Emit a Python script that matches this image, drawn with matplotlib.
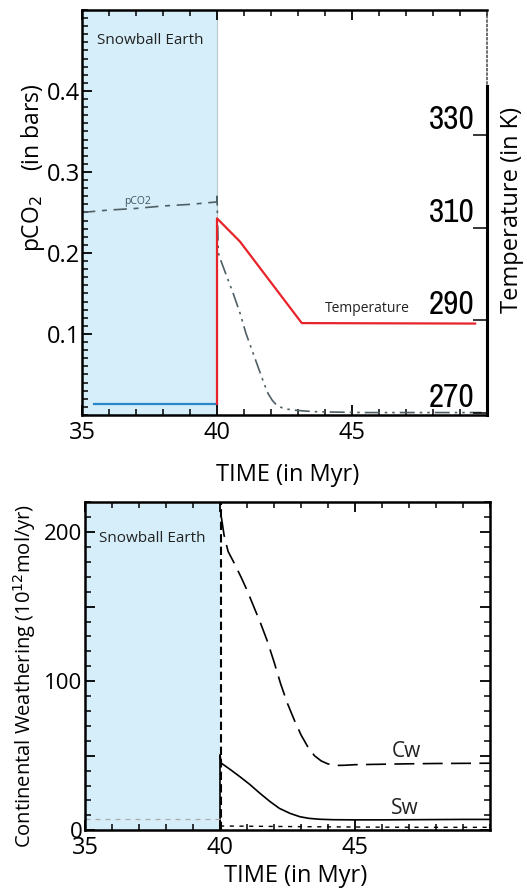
import matplotlib
matplotlib.use("Agg")
import matplotlib.pyplot as plt
from matplotlib.ticker import MultipleLocator, FuncFormatter
from matplotlib import font_manager
from matplotlib.font_manager import FontProperties

plt.rcParams['font.family'] = ['Open Sans', 'DejaVu Sans']

# ---------------- data ----------------
snowball_span = [35.0, 40.0]

# top panel: temperature (K)
t_snow_T = [35.45, 40.0]
T_snow = [272.0, 272.0]
t_T = [40.0, 40.0, 40.85, 43.14, 49.56]
T_vals = [272.0, 312.0, 307.0, 289.4, 289.3]

# top panel: pCO2 (bars)
t_pco2_snow = [35.0, 36.0, 37.0, 38.0, 39.0, 40.0]
pco2_snow = [0.250, 0.253, 0.255, 0.258, 0.260, 0.263]
t_pco2 = [40.0, 40.0, 40.05, 40.15, 40.35, 40.6, 40.85, 41.07, 41.35, 41.6,
          41.75, 41.9, 42.05, 42.2, 42.4, 42.6, 42.85, 43.2, 43.7, 44.5, 45.5, 47.0, 48.5, 49.8]
pco2_vals = [0.263, 0.270, 0.200, 0.190, 0.172, 0.150, 0.126, 0.101, 0.075, 0.052,
             0.038, 0.026, 0.018, 0.0125, 0.009, 0.0072, 0.006, 0.005, 0.004, 0.0035,
             0.003, 0.003, 0.003, 0.003]

# bottom panel: weathering (1e12 mol/yr)
t_cw = [40.05, 40.15, 40.30, 40.56, 40.80, 41.00, 41.25, 41.50, 41.75, 42.00,
        42.25, 42.50, 42.75, 43.00, 43.25, 43.50, 43.75, 44.00, 44.30, 44.60,
        45.00, 46.0, 47.0, 48.0, 49.0, 50.0]
cw_vals = [210, 198, 187, 178, 169, 161, 150, 139, 127, 113,
           98, 85, 74, 64, 56, 50, 46.5, 44.5, 43.5, 43.6,
           44.0, 44.3, 44.6, 44.8, 44.9, 45.0]
t_sw = [40.0, 40.0, 40.05, 40.4, 40.74, 41.1, 41.48, 41.85, 42.2, 42.6,
        42.96, 43.3, 43.7, 44.2, 45.0, 46.0, 47.0, 48.0, 49.0, 50.0]
sw_vals = [0.0, 50.6, 45.0, 40.5, 35.9, 30.8, 24.8, 19.3, 14.7, 11.3,
           9.1, 8.0, 7.4, 7.1, 7.0, 7.0, 7.1, 7.2, 7.3, 7.3]
t_snow_w = [35.0, 40.0]
snow_w = [7.5, 7.5]
t_low_w = [40.0, 42.0, 44.0, 46.0, 48.0, 50.0]
low_w = [2.9, 2.6, 2.3, 2.1, 2.0, 2.0]
t_boundary = [40.03, 40.03]
boundary_w = [0.0, 220.0]

temp_ticks = [270, 290, 310, 330]
cw_labeled_ticks = [0, 100, 200]

# ---------------- styling ----------------
SHADE = '#d5eef9'
RED = '#e8232a'
BLUE = '#2a87c8'
GRAY = '#4f5f66'


def pick_narrow_font():
    entries = font_manager.fontManager.ttflist
    for e in entries:
        if e.name == 'Liberation Sans Narrow' and e.weight in (400, 'normal', 'regular') and e.style == 'normal':
            return FontProperties(fname=e.fname)
    for e in entries:
        if ('Condensed' in e.name or 'Narrow' in e.name) and e.style == 'normal':
            return FontProperties(fname=e.fname)
    for e in entries:
        if e.stretch in ('condensed', 'semi-condensed', 'extra-condensed', 'ultra-condensed') \
                and e.style == 'normal' and e.weight in (400, 'normal', 'regular'):
            return FontProperties(fname=e.fname)
    return FontProperties(family='DejaVu Sans', stretch='condensed')


narrow_fp = pick_narrow_font()

fig = plt.figure(figsize=(5.27, 8.89), dpi=100)

# ================= top panel =================
ax = fig.add_axes([0.1556, 0.5332, 0.7685, 0.4556])
ax.set_xlim(35, 50)
ax.set_ylim(0, 0.5)
ax.axvspan(snowball_span[0], snowball_span[1], color=SHADE, zorder=0, lw=0)
ax.axvline(40.0, color='#b9c9d0', lw=0.8, zorder=0.5)

ax.plot(t_pco2_snow, pco2_snow, color=GRAY, lw=1.2, ls=(0, (8, 4, 3, 4)))
ax.plot(t_pco2, pco2_vals, color=GRAY, lw=1.2, ls=(0, (9, 3, 1.5, 3, 1.5, 3)))

ax.set_xticks([35, 40, 45])
ax.xaxis.set_minor_locator(MultipleLocator(1))
ax.set_yticks([0.1, 0.2, 0.3, 0.4])
ax.set_yticklabels(['0.1', '0.2', '0.3', '0.4'])
ax.yaxis.set_minor_locator(MultipleLocator(0.01))
ax.tick_params(axis='both', which='major', direction='in', length=7, width=1.3, labelsize=17)
ax.tick_params(axis='both', which='minor', direction='in', length=4, width=1.1)
ax.tick_params(axis='x', top=True, which='both', pad=4)
ax.tick_params(axis='y', right=False, which='both', pad=1.5)
for s in ['left', 'top', 'bottom']:
    ax.spines[s].set_linewidth(1.8)
ax.spines['right'].set_linestyle(':')
ax.spines['right'].set_linewidth(1.2)
ax.spines['right'].set_color('#555555')

ax.set_xlabel('TIME (in Myr)', fontsize=17)
ax.xaxis.label.set_verticalalignment('center')
ax.xaxis.set_label_coords(0.507, -0.148)
ax.set_ylabel('pCO$_2$    (in bars)', fontsize=16.5)
ax.yaxis.set_label_coords(-0.086, 0.61)

ax.text(35.55, 0.462, 'Snowball Earth', fontsize=11, color='#222222', va='center', ha='left')
ax.text(37.04, 0.264, 'pCO2', fontsize=7.5, color='#3c5560', va='center', ha='center')

# temperature twin axis
ax2 = ax.twinx()
ax2.set_ylim(269.57, 356.98)
ax2.plot(t_snow_T, T_snow, color=BLUE, lw=1.6)
ax2.plot(t_T, T_vals, color=RED, lw=1.6)
ax2.text(45.56, 0.131, 'Temperature', fontsize=10, color='#222222', va='center', ha='center',
         transform=ax.transData)
for s in ['left', 'top', 'bottom']:
    ax2.spines[s].set_visible(False)
ax2.spines['right'].set_bounds(269.57, 340.6)
ax2.spines['right'].set_linewidth(2.2)
ax2.set_yticks(temp_ticks)
ax2.set_yticklabels([str(v) for v in temp_ticks])
ax2.tick_params(axis='y', direction='in', length=10, width=1.1, pad=-9)
for lbl in ax2.get_yticklabels():
    lbl.set_fontproperties(narrow_fp)
    lbl.set_fontsize(24)
    lbl.set_horizontalalignment('right')
    lbl.set_verticalalignment('bottom')
ax2.set_ylabel('Temperature (in K)', fontsize=17)
ax2.yaxis.set_label_coords(1.032, 0.506)

# ================= bottom panel =================
bx = fig.add_axes([0.1613, 0.06603, 0.7685, 0.3690])
bx.set_xlim(35, 50)
bx.set_ylim(0, 220)
bx.axvspan(snowball_span[0], snowball_span[1], color=SHADE, zorder=0, lw=0)

bx.plot(t_boundary, boundary_w, color='black', lw=1.5, ls=(0, (4, 2)))
bx.plot(t_cw, cw_vals, color='black', lw=1.2, ls=(0, (12, 5)))
bx.plot(t_sw, sw_vals, color='black', lw=1.2)
bx.plot(t_snow_w, snow_w, color='#aaaaaa', lw=0.9, ls=(0, (4, 4)))
bx.plot(t_low_w, low_w, color='black', lw=1.0, ls=(0, (3, 4)))

bx.set_xticks([35, 40, 45])
bx.xaxis.set_minor_locator(MultipleLocator(1))
bx.yaxis.set_major_locator(MultipleLocator(50))
bx.yaxis.set_minor_locator(MultipleLocator(10))
bx.yaxis.set_major_formatter(FuncFormatter(
    lambda v, p: f'{int(round(v))}' if int(round(v)) in cw_labeled_ticks else ''))
bx.tick_params(axis='both', which='major', direction='in', length=7, width=1.3)
bx.tick_params(axis='x', which='major', labelsize=17)
bx.tick_params(axis='y', which='major', labelsize=16)
bx.tick_params(axis='both', which='minor', direction='in', length=4, width=1.1)
bx.tick_params(axis='x', top=True, which='both', pad=4)
bx.tick_params(axis='y', right=True, which='both', pad=2)
for s in bx.spines.values():
    s.set_linewidth(1.8)

bx.set_xlabel('TIME (in Myr)', fontsize=17)
bx.xaxis.label.set_verticalalignment('center')
bx.xaxis.set_label_coords(0.521, -0.138)
bx.set_ylabel('Continental Weathering (10$^{12}$mol/yr)', fontsize=14.5)
bx.yaxis.set_label_coords(-0.116, 0.47)

bx.text(35.52, 195.8, 'Snowball Earth', fontsize=11, color='#222222', va='center', ha='left')
bx.text(46.91, 52.6, 'Cw', fontsize=15, color='#222222', va='center', ha='center')
bx.text(46.85, 14.9, 'Sw', fontsize=15, color='#222222', va='center', ha='center')

fig.savefig('out.png', dpi=100)
